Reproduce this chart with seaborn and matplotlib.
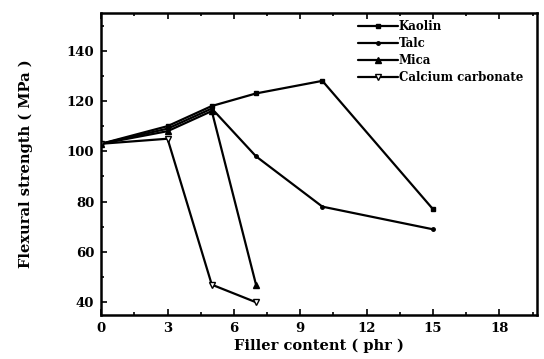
import numpy as np
import pandas as pd
import matplotlib
matplotlib.use("Agg")
import matplotlib.pyplot as plt
from matplotlib.ticker import MultipleLocator
import seaborn as sns

filler = [0, 3, 5, 7, 10, 15]
kaolin = [103, 110, 118, 123, 128, 77]
talc = [103, 109, 117, 98, 78, 69]
mica_x = [0, 3, 5, 7]
mica = [103, 108, 116, 47]
caco3_x = [0, 3, 5, 7]
caco3 = [103, 105, 47, 40]

sns.set_style("ticks")
plt.rcParams['font.family'] = ['DejaVu Serif', 'Liberation Serif']
plt.rcParams['font.weight'] = 'bold'
for key in ['text.color', 'axes.labelcolor', 'xtick.color', 'ytick.color']:
    plt.rcParams[key] = 'black'

fig = plt.figure(figsize=(5.44, 3.59), dpi=100)
ax = fig.add_axes([0.186, 0.123, 0.801, 0.841])

series = [
    ("Kaolin", filler, kaolin, dict(marker='s', markersize=3, mfc='black')),
    ("Talc", filler, talc, dict(marker='o', markersize=2.5, mfc='black')),
    ("Mica", mica_x, mica, dict(marker='^', markersize=4.5, mfc='black')),
    ("Calcium carbonate", caco3_x, caco3, dict(marker='v', markersize=4.5, mfc='white')),
]
for name, xs, ys, st in series:
    df = pd.DataFrame({'x': xs, 'y': ys})
    sns.lineplot(data=df, x='x', y='y', ax=ax, color='black', lw=1.6,
                 mec='black', mew=1.0, label=name, **st)

ax.set_xlim(0, 19.7)
ax.set_ylim(35, 155)
ax.xaxis.set_major_locator(MultipleLocator(3))
ax.xaxis.set_minor_locator(MultipleLocator(1.5))
ax.yaxis.set_minor_locator(MultipleLocator(10))
ax.set_yticks([40, 60, 80, 100, 120, 140])
ax.tick_params(which='both', direction='in', top=True, right=False, width=1.2, labelsize=9.5)
ax.tick_params(which='major', length=4, pad=5)
ax.tick_params(which='minor', length=2)
for lab in ax.get_xticklabels() + ax.get_yticklabels():
    lab.set_fontweight('bold')
for sp in ax.spines.values():
    sp.set_linewidth(1.8)
    sp.set_color('black')

ax.set_xlabel("Filler content ( phr )", fontsize=10.5, fontweight='bold', labelpad=3)
ax.set_ylabel("Flexural strength ( MPa )", fontsize=10.5, fontweight='bold', labelpad=24)

leg = ax.legend(loc='upper right', bbox_to_anchor=(0.985, 1.0), frameon=False,
                fontsize=8.5, handlelength=3.4, handletextpad=0.1, labelspacing=0.35,
                borderaxespad=0.2)
for t in leg.get_texts():
    t.set_fontweight('bold')

fig.savefig("out.png", dpi=100)
